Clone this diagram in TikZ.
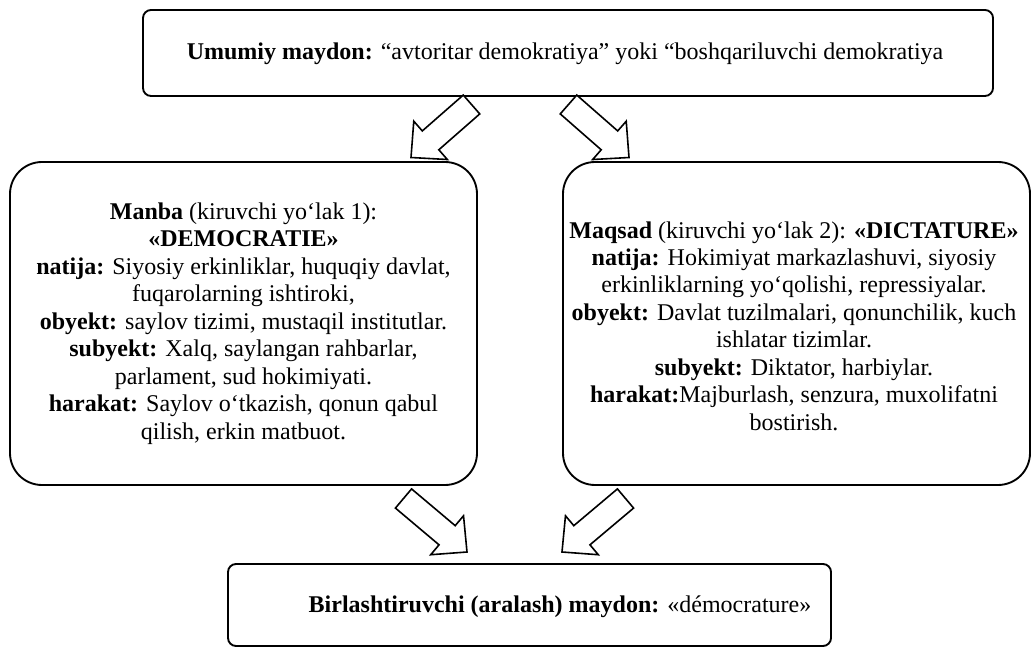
\documentclass[tikz,border=0pt]{standalone}
\usepackage{fontspec}
\setmainfont{Liberation Serif}
\usetikzlibrary{calc}

% hollow block arrow from a tail centre to a tip
\newcommand\bigarrow[2]{%
  \coordinate (hb) at ($(#2)!19.5pt!(#1)$);
  \draw[blockarrow]
    ($(#1)!9.4pt!90:(#2)$) -- ($(hb)!9.4pt!90:(#2)$) -- ($(hb)!19.1pt!90:(#2)$)
    -- (#2)
    -- ($(hb)!19.1pt!-90:(#2)$) -- ($(hb)!9.4pt!-90:(#2)$) -- ($(#1)!9.4pt!-90:(#2)$)
    -- cycle;
}

\tikzset{
  card/.style={draw, line width=1.4pt, rounded corners=#1, inner sep=0pt},
  card/.default=6pt,
  cardtext/.style={inner sep=0pt, align=center, font=\fontsize{18}{20.6}\selectfont},
  blockarrow/.style={draw, fill=white, line width=1.2pt, line join=miter},
}

\begin{document}
\begin{tikzpicture}[x=0.75pt, y=-0.75pt]
\useasboundingbox (0,0) rectangle (1036,648);

% general field
\node[card, minimum width=637.5pt, minimum height=64.5pt] (top) at (568,53) {};
\node[cardtext] (toptext) at (565,54)
  {\textbf{Umumiy maydon:} “avtoritar demokratiya” yoki “boshqariluvchi demokratiya};

% source field
\node[card=24pt, minimum width=350.25pt, minimum height=242.25pt] (src) at (243.5,323.5) {};
\node[cardtext] (srctext) at (243.5,323.5)
  {\textbf{Manba} (kiruvchi yo‘lak 1):\\
   \textbf{«DEMOCRATIE»}\\
   \textbf{natija:} Siyosiy erkinliklar, huquqiy davlat,\\
   fuqarolarning ishtiroki,\\
   \textbf{obyekt:} saylov tizimi, mustaqil institutlar.\\
   \textbf{subyekt:} Xalq, saylangan rahbarlar,\\
   parlament, sud hokimiyati.\\
   \textbf{harakat:} Saylov o‘tkazish, qonun qabul\\
   qilish, erkin matbuot.};

% target field
\node[card=24pt, minimum width=350.25pt, minimum height=242.25pt] (tgt) at (796.5,323.5) {};
\node[cardtext] (tgttext) at (794,326)
  {\textbf{Maqsad} (kiruvchi yo‘lak 2): \textbf{«DICTATURE»}\\
   \textbf{natija:} Hokimiyat markazlashuvi, siyosiy\\
   erkinliklarning yo‘qolishi, repressiyalar.\\
   \textbf{obyekt:} Davlat tuzilmalari, qonunchilik, kuch\\
   ishlatar tizimlar.\\
   \textbf{subyekt:} Diktator, harbiylar.\\
   \textbf{harakat:}Majburlash, senzura, muxolifatni\\
   bostirish.};

% blended field
\node[card, minimum width=452.25pt, minimum height=61.5pt] (blend) at (529.5,605) {};
\node[cardtext] (blendtext) at (560,607)
  {\textbf{Birlashtiruvchi (aralash) maydon:} «démocrature»};

% arrow anchors
\coordinate (a1s) at (471.5,104.5);  \coordinate (a1e) at (411,157.5);
\coordinate (a2s) at (568.5,104.5);  \coordinate (a2e) at (629,157.5);
\coordinate (a3s) at (403.5,498.5);  \coordinate (a3e) at (467,552);
\coordinate (a4s) at (625.5,498.5);  \coordinate (a4e) at (562,552);

\bigarrow{a1s}{a1e}
\bigarrow{a2s}{a2e}
\bigarrow{a3s}{a3e}
\bigarrow{a4s}{a4e}
\end{tikzpicture}
\end{document}
